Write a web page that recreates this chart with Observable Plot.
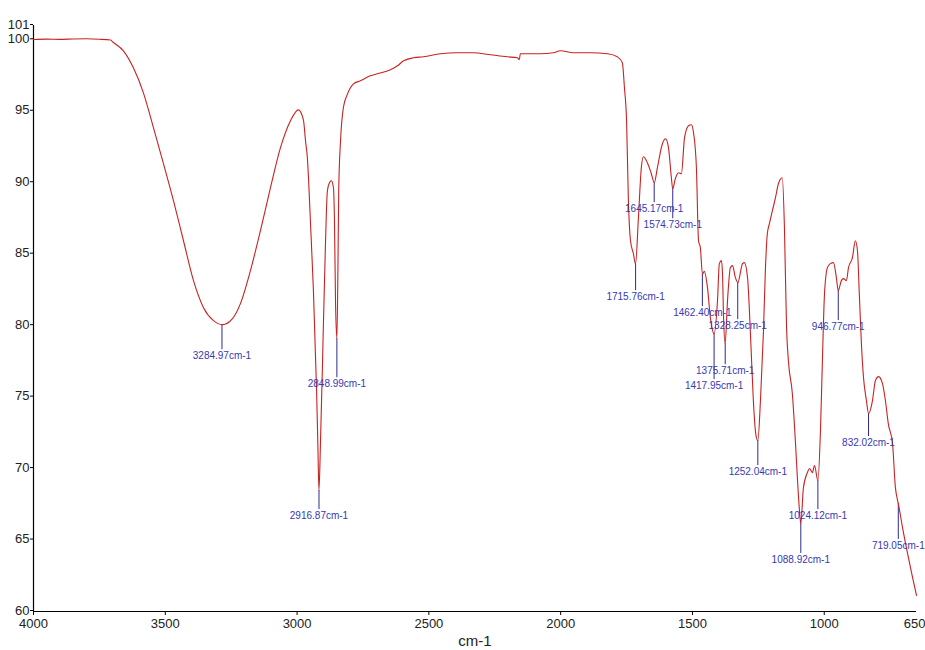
<!DOCTYPE html>
<html>
<head>
<meta charset="utf-8">
<script src="https://cdn.jsdelivr.net/npm/d3@7"></script>
<script src="https://cdn.jsdelivr.net/npm/@observablehq/plot@0.6"></script>
<style>
  html, body { margin: 0; padding: 0; background: #fff; }
  #chart svg { display: block; font-family: "Liberation Sans", Arial, sans-serif; }
</style>
</head>
<body>
<div id="chart"></div>
<script>
// IR spectrum: wavenumber (cm-1) and transmittance (%)
const wavenumber = [4000, 3950, 3900, 3850, 3800, 3750, 3708, 3697, 3659, 3621, 3583, 3545, 3507, 3469, 3431, 3393, 3355, 3317, 3283, 3245, 3215, 3177, 3139, 3101, 3063, 3025, 2995, 2976, 2968, 2961, 2949, 2938, 2926, 2921, 2917, 2911, 2904, 2900, 2892, 2885, 2877, 2870, 2862, 2858, 2854, 2849, 2845, 2842, 2835, 2824, 2809, 2786, 2760, 2722, 2695, 2646, 2619, 2596, 2558, 2520, 2456, 2392, 2331, 2266, 2202, 2164, 2157, 2153, 2077, 2027, 2001, 1951, 1887, 1822, 1785, 1766, 1758, 1750, 1743, 1735, 1724, 1716, 1705, 1694, 1686, 1671, 1656, 1645, 1633, 1614, 1602, 1591, 1580, 1575, 1565, 1553, 1542, 1530, 1515, 1504, 1496, 1485, 1477, 1470, 1462, 1455, 1443, 1432, 1418, 1405, 1398, 1390, 1386, 1382, 1376, 1367, 1356, 1348, 1337, 1328, 1310, 1303, 1291, 1280, 1269, 1260, 1252, 1242, 1231, 1223, 1216, 1208, 1197, 1185, 1174, 1159, 1151, 1143, 1136, 1121, 1109, 1102, 1094, 1089, 1079, 1064, 1056, 1045, 1037, 1024, 1014, 1007, 999, 988, 977, 965, 954, 947, 935, 927, 916, 908, 893, 882, 874, 867, 859, 851, 840, 832, 817, 806, 794, 779, 768, 757, 741, 730, 722, 719, 703, 684, 665, 650];
const transmittance = [100.02, 100.05, 100.03, 100.06, 100.07, 100.04, 99.98, 99.81, 99.23, 98.04, 96.29, 93.85, 91.33, 88.74, 85.94, 83.15, 81.26, 80.35, 80.07, 80.49, 81.54, 83.85, 86.64, 89.65, 92.45, 94.34, 95.1, 94.4, 92.94, 91.75, 87.13, 82.45, 75.45, 71.5, 68.46, 72.0, 77.0, 80.14, 85.94, 89.44, 90.0, 90.14, 89.65, 87.13, 81.5, 79.1, 84.0, 89.5, 93.0, 95.3, 96.2, 96.92, 97.13, 97.48, 97.62, 97.9, 98.18, 98.53, 98.74, 98.81, 99.02, 99.09, 99.09, 98.95, 98.81, 98.74, 98.6, 99.02, 99.02, 99.09, 99.23, 99.09, 99.09, 99.02, 98.81, 98.39, 96.64, 94.34, 88.74, 85.94, 85.03, 84.3, 87.55, 91.05, 91.82, 91.4, 90.63, 90.0, 91.05, 92.73, 93.08, 92.45, 90.35, 89.58, 90.28, 90.7, 90.63, 93.15, 93.99, 94.06, 93.5, 91.05, 85.94, 85.45, 83.6, 83.8, 82.66, 80.56, 79.44, 81.75, 84.34, 84.55, 83.64, 80.56, 78.74, 81.75, 84.06, 84.2, 83.36, 83.01, 84.34, 84.41, 83.36, 79.44, 74.76, 72.45, 71.96, 74.76, 79.44, 84.06, 86.43, 87.13, 88.03, 88.95, 89.93, 90.35, 86.85, 79.86, 77.55, 75.24, 71.75, 69.37, 67.06, 66.15, 68.67, 69.72, 70.0, 69.72, 70.21, 69.16, 72.87, 77.55, 82.24, 84.06, 84.34, 84.41, 83.36, 82.45, 83.15, 83.29, 83.15, 84.06, 84.76, 85.94, 85.24, 82.24, 78.74, 76.36, 74.76, 73.85, 74.76, 76.15, 76.43, 75.94, 74.76, 73.15, 71.75, 68.67, 67.8, 67.55, 65.87, 64.06, 62.38, 61.12];

// Labelled peaks: wavenumber, transmittance at the peak, and level of its label
const peakWavenumber = [3284.97, 2916.87, 2848.99, 1715.76, 1645.17, 1574.73, 1462.40, 1417.95, 1375.71, 1328.25, 1252.04, 1088.92, 1024.12, 946.77, 832.02, 719.05];
const peakTransmittance = [80.07, 68.46, 79.1, 84.3, 90.0, 89.58, 83.6, 79.44, 78.74, 83.01, 71.96, 66.15, 69.16, 82.45, 73.85, 67.55];
const peakLabelLevel = [77.9, 66.71, 75.94, 82.03, 88.18, 87.06, 80.91, 75.8, 76.85, 80.0, 69.79, 63.64, 66.71, 79.93, 71.82, 64.62];

const xTicks = [4000, 3500, 3000, 2500, 2000, 1500, 1000];
const xLastTick = [650];
const yTicks = [60, 65, 70, 75, 80, 85, 90, 95, 100, 101];
const xLabel = "cm-1";

const spectrum = wavenumber.map((w, i) => ({w, t: transmittance[i]}));
const peaks = peakWavenumber.map((w, i) => ({
  w, t: peakTransmittance[i], lt: peakLabelLevel[i],
  label: d3.format(".2f")(w) + "cm-1"
}));

const chart = Plot.plot({
  width: 925,
  height: 650,
  marginLeft: 33,
  marginRight: 9,
  marginTop: 25,
  marginBottom: 39,
  style: {background: "#fff", fontFamily: "'Liberation Sans', Arial, sans-serif"},
  x: {domain: [4000, 650]},
  y: {domain: [60, 101]},
  marks: [
    Plot.axisY({ticks: yTicks, tickSize: 3, tickPadding: 1, fontSize: 13, label: null, stroke: "#000", fill: "#222", dy: -1}),
    Plot.axisX({ticks: xTicks, tickSize: 4, tickPadding: 3, fontSize: 13, label: null, tickFormat: d => String(d), stroke: "#000", fill: "#222"}),
    Plot.axisX({ticks: xLastTick, tickSize: 4, tickPadding: 3, fontSize: 13, label: null, tickFormat: d => String(d), stroke: "#000", fill: "#222", textAnchor: "end", dx: 9}),
    Plot.ruleX([4000], {stroke: "#000", strokeWidth: 1.2}),
    Plot.ruleY([60], {stroke: "#000", strokeWidth: 1.2}),
    Plot.text([xLabel], {frameAnchor: "bottom", dy: 30, lineAnchor: "middle", fontSize: 15, fill: "#222"}),
    Plot.ruleX(peaks, {x: "w", y1: "t", y2: "lt", insetBottom: 6, stroke: "#2c2c8c", strokeWidth: 1}),
    Plot.line(spectrum, {x: "w", y: "t", stroke: "#c82222", strokeWidth: 1.1, curve: "monotone-x"}),
    Plot.text(peaks, {x: "w", y: "lt", text: "label", fontSize: 10, fill: "#3838b0", lineAnchor: "middle"})
  ]
});
document.getElementById("chart").appendChild(chart);
</script>
</body>
</html>
